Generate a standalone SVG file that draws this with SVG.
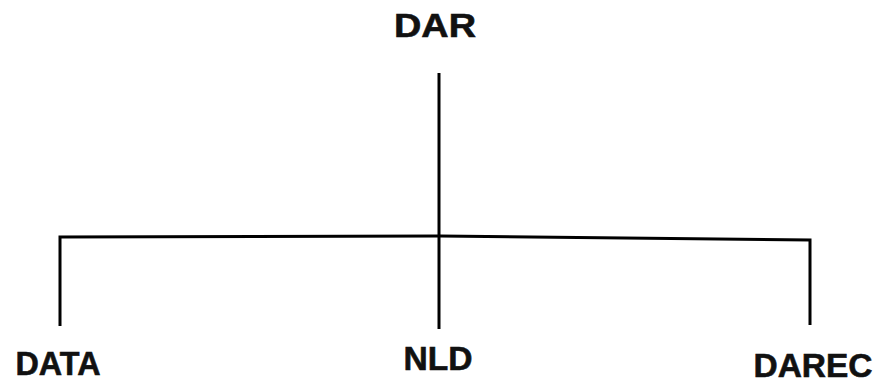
<svg xmlns="http://www.w3.org/2000/svg" width="877" height="385" viewBox="0 0 877 385">
<style>
.lbl{font-family:"Liberation Sans",Arial,sans-serif;font-weight:bold;font-size:33px;fill:#111;stroke:#111;stroke-width:0.6;text-anchor:middle}
.ln{stroke:#000;stroke-width:3;fill:none;stroke-linejoin:miter}
</style>
<rect width="877" height="385" fill="#fff"/>
<g id="connectors">
<line class="ln" x1="439" y1="73" x2="439" y2="329"/>
<polyline class="ln" points="60,326 60,237 440,236 810,240 810,325"/>
</g>
<g id="node-DAR"><text class="lbl" x="435" y="37" textLength="82" lengthAdjust="spacingAndGlyphs">DAR</text></g>
<g id="node-DATA"><text class="lbl" x="58" y="375" textLength="85" lengthAdjust="spacingAndGlyphs">DATA</text></g>
<g id="node-NLD"><text class="lbl" x="438" y="370" textLength="69" lengthAdjust="spacingAndGlyphs">NLD</text></g>
<g id="node-DAREC"><text class="lbl" x="813" y="377" textLength="119" lengthAdjust="spacingAndGlyphs">DAREC</text></g>
</svg>
